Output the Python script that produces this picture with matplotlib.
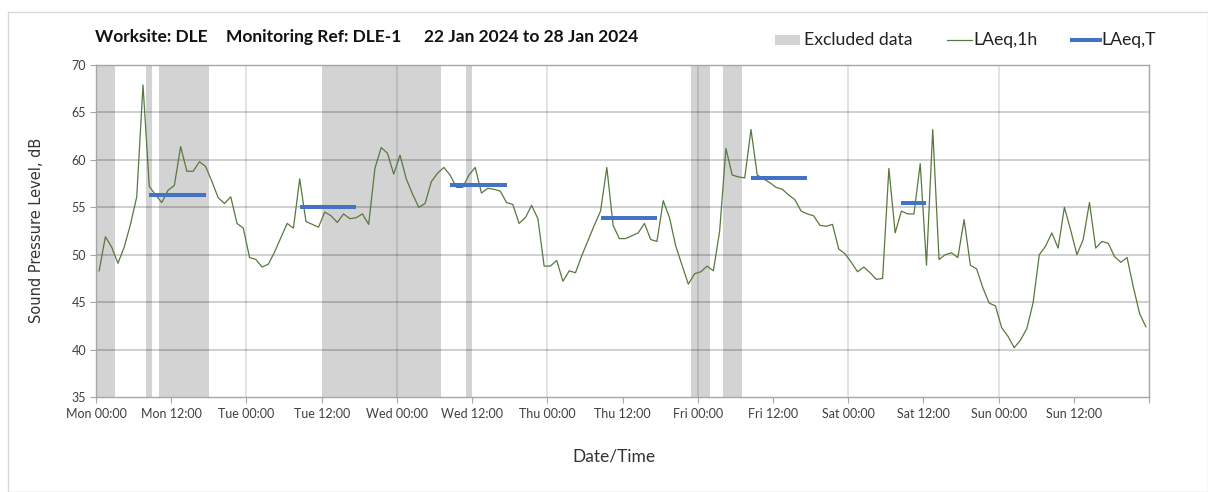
import numpy as np
import matplotlib
matplotlib.use("Agg")
import matplotlib.pyplot as plt
from matplotlib.patches import Rectangle
from matplotlib.lines import Line2D

# ---------------- data ----------------
# hourly LAeq,1h values, Mon 22 Jan 2024 00:00 onwards (plotted at hour centres)
laeq_1h = [
    48.3, 51.9, 50.8, 49.1, 50.8, 53.2, 56.1, 67.9, 57.2, 56.3,
    55.5, 56.8, 57.3, 61.4, 58.8, 58.8, 59.8, 59.3, 57.7, 56.0,
    55.4, 56.1, 53.3, 52.8, 49.7, 49.5, 48.7, 49.0, 50.3, 51.8,
    53.3, 52.8, 58.0, 53.5, 53.2, 52.9, 54.5, 54.1, 53.4, 54.3,
    53.8, 53.9, 54.3, 53.2, 59.1, 61.3, 60.7, 58.5, 60.5, 58.0,
    56.4, 55.0, 55.4, 57.7, 58.6, 59.2, 58.4, 57.1, 57.1, 58.4,
    59.2, 56.5, 57.0, 56.9, 56.7, 55.5, 55.3, 53.3, 53.9, 55.2,
    53.8, 48.8, 48.8, 49.4, 47.2, 48.3, 48.1, 49.9, 51.5, 53.1,
    54.6, 59.2, 53.1, 51.7, 51.7, 52.0, 52.3, 53.3, 51.6, 51.4,
    55.7, 53.9, 50.9, 48.9, 46.9, 48.0, 48.2, 48.8, 48.3, 52.5,
    61.2, 58.4, 58.2, 58.1, 63.2, 58.4, 58.0, 57.6, 57.1, 56.9,
    56.3, 55.8, 54.6, 54.3, 54.1, 53.1, 53.0, 53.2, 50.6, 50.1,
    49.2, 48.2, 48.7, 48.1, 47.4, 47.5, 59.1, 52.3, 54.6, 54.3,
    54.3, 59.6, 48.9, 63.2, 49.5, 50.0, 50.2, 49.7, 53.7, 48.9,
    48.5, 46.5, 44.9, 44.6, 42.3, 41.4, 40.2, 41.0, 42.2, 44.9,
    50.0, 50.9, 52.3, 50.7, 55.0, 52.6, 50.0, 51.6, 55.5, 50.7,
    51.4, 51.2, 49.8, 49.2, 49.7, 46.6, 43.8, 42.4,
]

# excluded periods (hours from Mon 00:00)
excluded_start = [0, 8, 10, 36, 59, 95, 100]
excluded_end = [3, 9, 18, 55, 60, 98, 103]

# LAeq,T periods (hours from Mon 00:00) and levels
laeqT_start = [8, 32, 56, 80, 104, 128]
laeqT_end = [18, 42, 66, 90, 114, 133]
laeqT_value = [56.3, 55.0, 57.3, 53.85, 58.05, 55.5]

day_names = ["Mon", "Tue", "Wed", "Thu", "Fri", "Sat", "Sun"]
tick_labels = [f"{d} {t}" for d in day_names for t in ("00:00", "12:00")]

y_ticks = [35, 40, 45, 50, 55, 60, 65, 70]

# ---------------- style ----------------
FONT = "Lato"
GREEN = "#58783f"
BLUE = "#4472C4"
GREY_FILL = "#d3d3d3"
TXT = "#404040"

W, H = 1208, 492
fig = plt.figure(figsize=(W / 100, H / 100), dpi=100)
fig.patch.set_facecolor("white")

# outer chart border
fig.patches.append(Rectangle((8 / W, 0.0), 1 - 8 / W, 1 - 12 / H, transform=fig.transFigure,
                             fill=False, edgecolor="#d9d9d9", lw=1.0))

L, R, T, B = 96, 1149, 65, 397
ax = fig.add_axes([L / W, 1 - B / H, (R - L) / W, (B - T) / H])

hours = np.arange(len(laeq_1h)) + 0.5

for s, e in zip(excluded_start, excluded_end):
    ax.axvspan(s, e, color=GREY_FILL, lw=0, zorder=0.5)

# gridlines
for yv in y_ticks[1:-1]:
    ax.axhline(yv, color="black", alpha=0.22, lw=1.2, zorder=1)
for xv in range(24, 168, 24):
    ax.axvline(xv, color="black", alpha=0.13, lw=1.2, zorder=1)

ax.plot(hours, laeq_1h, color=GREEN, lw=0.9, zorder=3)
ax.hlines(laeqT_value, np.array(laeqT_start) + 0.5, np.array(laeqT_end) - 0.5,
          color=BLUE, lw=2.9, zorder=4, capstyle="butt")

ax.set_xlim(0, 168)
ax.set_ylim(35, 70)
ax.set_xticks(range(0, 169, 12))
ax.set_xticklabels(tick_labels + [""], fontsize=9, family=FONT, color=TXT)
ax.set_yticks(y_ticks)
ax.set_yticklabels([str(v) for v in y_ticks], fontsize=9, family=FONT, color=TXT)
ax.tick_params(axis="both", direction="out", length=4, width=0.8, color="#a6a6a6", pad=3)
ax.tick_params(axis="x", pad=4)

for sp in ax.spines.values():
    sp.set_color("#a6a6a6")
    sp.set_linewidth(1.0)

ax.set_ylabel("Sound Pressure Level, dB", family="DejaVu Sans", fontsize=10.5, color="#333333")
ax.yaxis.set_label_coords(-(L - 44) / (R - L), 1 - (230 - T) / (B - T))
ax.set_xlabel("Date/Time", family=FONT, fontsize=12.5, color="#333333")
ax.xaxis.set_label_coords((614 - L) / (R - L), -(449 - B) / (B - T))

# title pieces
ty = 1 - 37 / H
tkw = dict(family=FONT, fontweight="bold", fontsize=12.5, va="center", ha="left", color="#111111")
fig.text(95 / W, ty, "Worksite: DLE", **tkw)
fig.text(226 / W, ty, "Monitoring Ref: DLE-1", **tkw)
fig.text(424 / W, ty, "22 Jan 2024 to 28 Jan 2024", **tkw)

# legend
ly = 1 - 40 / H
lkw = dict(family=FONT, fontsize=12.7, va="center", ha="left", color="#222222")
fig.patches.append(Rectangle((775 / W, 1 - 45 / H), 25 / W, 10 / H, transform=fig.transFigure,
                             facecolor=GREY_FILL, edgecolor="none"))
fig.text(804 / W, ly, "Excluded data", **lkw)
fig.lines.append(Line2D([947 / W, 972 / W], [ly, ly], transform=fig.transFigure, color=GREEN, lw=0.9))
fig.text(973 / W, ly, "LAeq,1h", **lkw)
fig.lines.append(Line2D([1072 / W, 1100 / W], [ly, ly], transform=fig.transFigure, color=BLUE, lw=2.9))
fig.text(1101 / W, ly, "LAeq,T", **lkw)

fig.savefig("out.png", dpi=100)
